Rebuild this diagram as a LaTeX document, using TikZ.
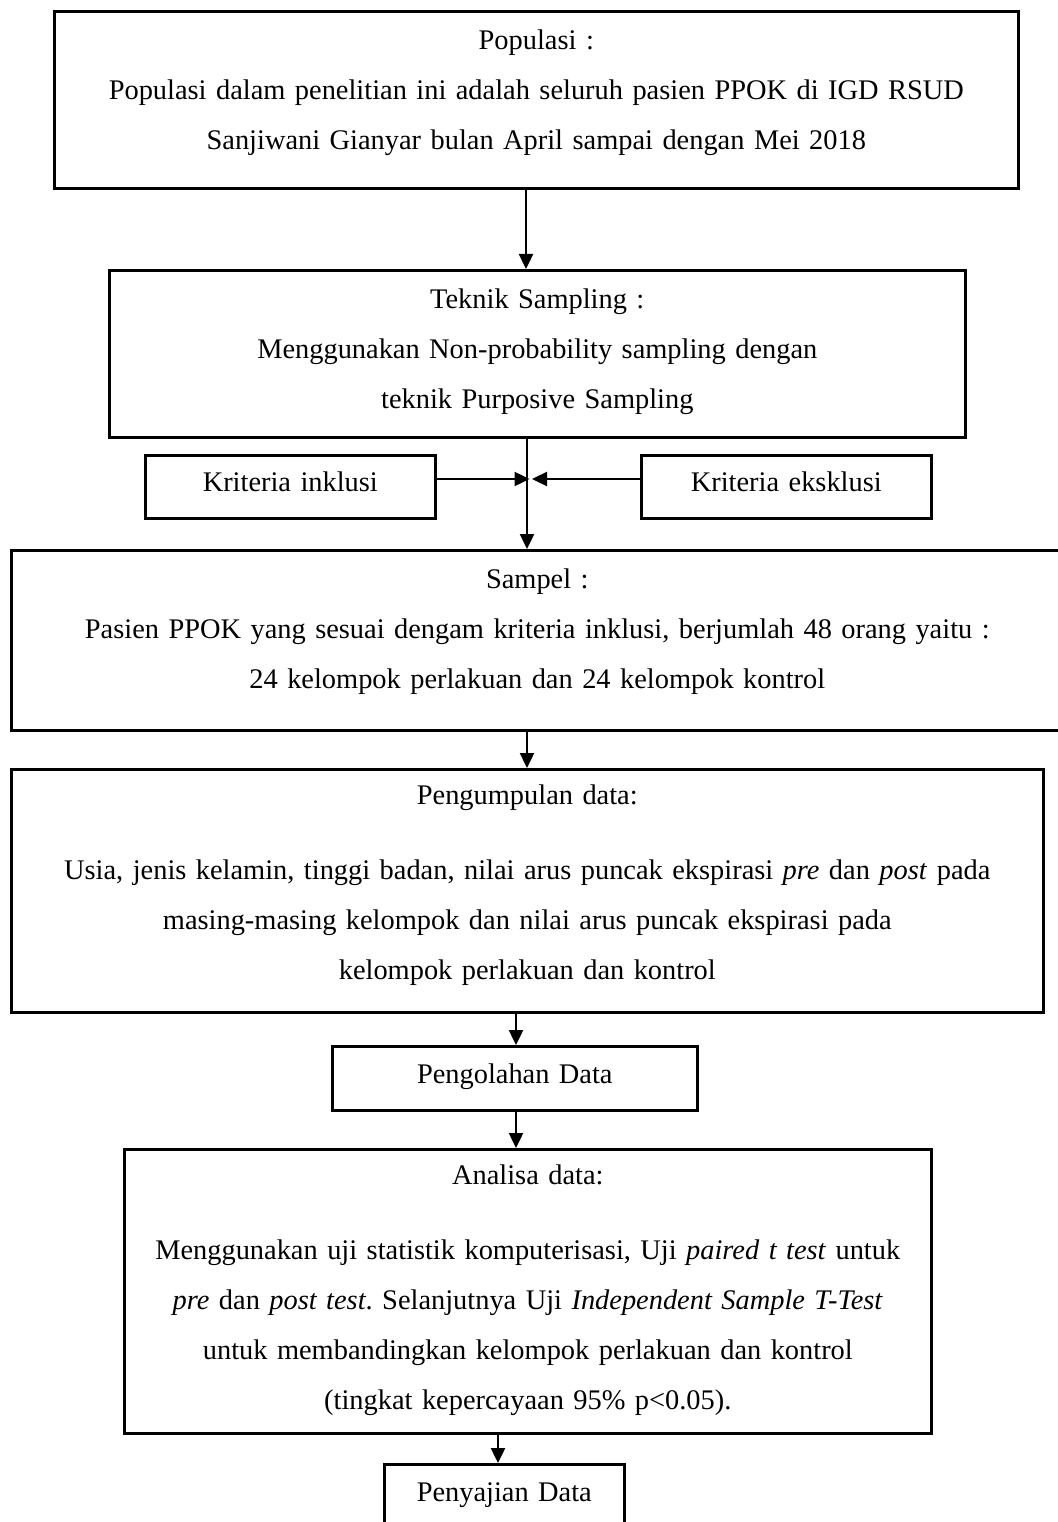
\documentclass[tikz,border=0pt]{standalone}
\usepackage{fontspec}
\setmainfont{Liberation Serif}
\usetikzlibrary{arrows.meta}
\frenchspacing
\begin{document}
\begin{tikzpicture}[x=1pt,y=-1pt,
  box/.style={draw, line width=2.6pt, inner sep=0pt, anchor=north west, align=center,
    font=\fontsize{28.4}{50}\selectfont},
  arr/.style={line width=2.4pt, -{Triangle[length=15pt,width=14pt]}},
  ln/.style={line width=2.4pt}]
\useasboundingbox[fill=white] (0,0) rectangle (1057,1522);

\node[box, minimum width=964pt, text width=950pt, text height=38pt, text depth=139pt] (pop) at (53,10)
  {Populasi :\\
   Populasi dalam penelitian ini adalah seluruh pasien PPOK di IGD RSUD\\
   Sanjiwani Gianyar bulan April sampai dengan Mei 2018};

\node[box, minimum width=856pt, text width=840pt, text height=38pt, text depth=129pt] (tek) at (108,269)
  {Teknik Sampling :\\
   Menggunakan Non-probability sampling dengan\\
   teknik Purposive Sampling};

\node[box, minimum width=290pt, text width=280pt, text height=36pt, text depth=27pt] (inkl) at (144,454)
  {Kriteria inklusi};
\node[box, minimum width=290pt, text width=280pt, text height=36pt, text depth=27pt] (eks) at (640,454)
  {Kriteria eksklusi};

\node[box, minimum width=1052pt, text width=1040pt, text height=38pt, text depth=142pt] (sam) at (10,549)
  {Sampel :\\
   Pasien PPOK yang sesuai dengam kriteria inklusi, berjumlah 48 orang yaitu :\\
   24 kelompok perlakuan dan 24 kelompok kontrol};

\node[box, minimum width=1032pt, text width=1020pt, text height=35pt, text depth=208pt] (kum) at (10,768)
  {Pengumpulan data:\\[25pt]
   Usia, jenis kelamin, tinggi badan, nilai arus puncak ekspirasi \textit{pre} dan \textit{post} pada\\
   masing-masing kelompok dan nilai arus puncak ekspirasi pada\\
   kelompok perlakuan dan kontrol};

\node[box, minimum width=365pt, text width=355pt, text height=37pt, text depth=27pt] (olah) at (331,1045)
  {Pengolahan Data};

\node[box, minimum width=807pt, text width=795pt, text height=35pt, text depth=249pt] (ana) at (123,1148)
  {Analisa data:\\[25pt]
   Menggunakan uji statistik komputerisasi, Uji \textit{paired t test} untuk\\
   \textit{pre} dan \textit{post test}. Selanjutnya Uji \textit{Independent Sample T-Test}\\
   untuk membandingkan kelompok perlakuan dan kontrol\\
   (tingkat kepercayaan 95\% p<0.05).};

\node[box, minimum width=240pt, text width=230pt, text height=37pt, text depth=27pt] (saji) at (383,1463)
  {Penyajian Data};

% connector positions
\coordinate (c1) at (526,0);
\coordinate (c2) at (527,479);
\coordinate (c3) at (527,0);
\coordinate (c4) at (516,0);
\coordinate (c5) at (498,0);

\draw[arr] (pop.south -| c1) -- (tek.north -| c1);
\draw[arr] (tek.south -| c2) -- (sam.north -| c2);
\draw[arr] (inkl.east |- c2) -- ([xshift=2.5pt]c2);
\draw[arr] (eks.west |- c2) -- ([xshift=5pt]c2);
\draw[arr] (sam.south -| c3) -- (kum.north -| c3);
\draw[arr] (kum.south -| c4) -- (olah.north -| c4);
\draw[arr] (olah.south -| c4) -- (ana.north -| c4);
\draw[arr] (ana.south -| c5) -- (saji.north -| c5);
\end{tikzpicture}
\end{document}
